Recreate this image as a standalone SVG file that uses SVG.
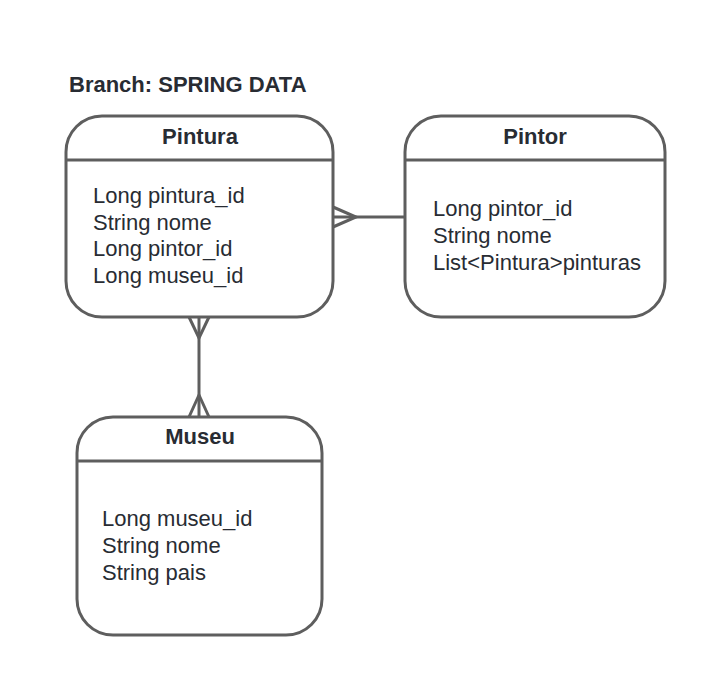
<svg xmlns="http://www.w3.org/2000/svg" width="723" height="679" viewBox="0 0 723 679">
<style>
.box{fill:#ffffff;stroke:#5e5e5e;stroke-width:3}
.ln{stroke:#5e5e5e;stroke-width:3;fill:none}
.t{font-family:"Liberation Sans",Arial,sans-serif;font-size:22px;fill:#282c33}
.h{font-family:"Liberation Sans",Arial,sans-serif;font-size:22px;font-weight:bold;fill:#282c33;text-anchor:middle}
.title{font-family:"Liberation Sans",Arial,sans-serif;font-size:22px;font-weight:bold;fill:#282c33}
</style>
<rect width="723" height="679" fill="#ffffff"/>
<text class="title" x="69" y="92">Branch: SPRING DATA</text>
<g id="connectors">
<path class="ln" d="M333 217 H405"/>
<path class="ln" d="M333 207 L356 217 L333 227"/>
<path class="ln" d="M199 317 V417"/>
<path class="ln" d="M189 317 L199 338 L209 317"/>
<path class="ln" d="M189 417 L199 395 L209 417"/>
</g>
<g id="pintura">
<rect class="box" x="66" y="116" width="267" height="201" rx="36"/>
<line class="ln" x1="66" y1="160" x2="333" y2="160"/>
<text class="h" x="200" y="144">Pintura</text>
<text class="t" x="93" y="203">Long pintura_id</text>
<text class="t" x="93" y="230">String nome</text>
<text class="t" x="93" y="256">Long pintor_id</text>
<text class="t" x="93" y="283">Long museu_id</text>
</g>
<g id="pintor">
<rect class="box" x="405" y="116" width="260" height="201" rx="36"/>
<line class="ln" x1="405" y1="160" x2="665" y2="160"/>
<text class="h" x="535" y="144">Pintor</text>
<text class="t" x="433" y="216">Long pintor_id</text>
<text class="t" x="433" y="243">String nome</text>
<text class="t" x="433" y="270">List&lt;Pintura&gt;pinturas</text>
</g>
<g id="museu">
<rect class="box" x="77" y="417" width="245" height="218" rx="36"/>
<line class="ln" x1="77" y1="461" x2="322" y2="461"/>
<text class="h" x="200" y="444">Museu</text>
<text class="t" x="102" y="526">Long museu_id</text>
<text class="t" x="102" y="553">String nome</text>
<text class="t" x="102" y="580">String pais</text>
</g>
</svg>
